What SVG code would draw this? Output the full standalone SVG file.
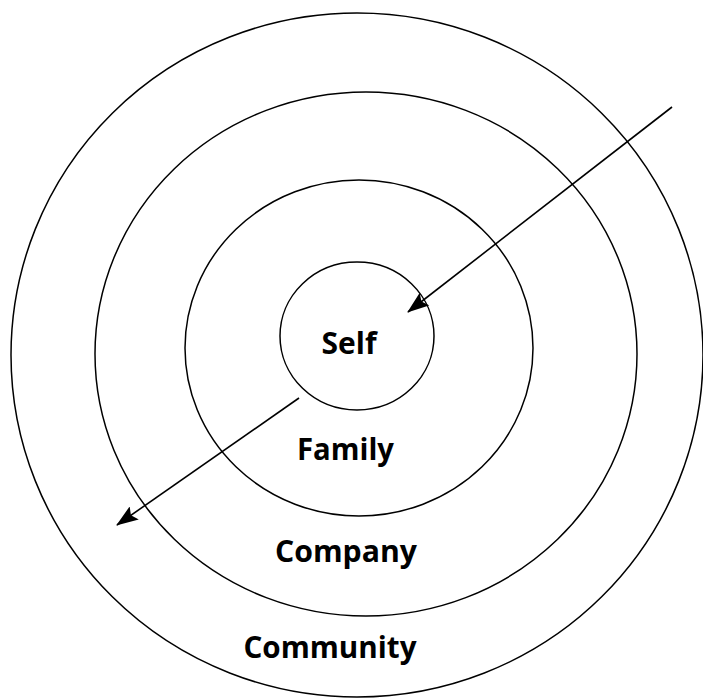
<svg xmlns="http://www.w3.org/2000/svg" width="703" height="700" viewBox="0 0 703 700">
<style>
.ring{fill:none;stroke:#000;stroke-width:1.5}
.lbl{font-family:"Open Sans","Noto Sans","DejaVu Sans",sans-serif;font-weight:bold;font-size:30px;fill:#000;text-anchor:middle}
.conn{stroke:#000;stroke-width:1.6;fill:none;marker-end:url(#ah)}
</style>
<defs>
<marker id="ah" viewBox="0 0 22 16" refX="21" refY="8" markerWidth="22" markerHeight="16" markerUnits="userSpaceOnUse" orient="auto">
<path d="M0,0 L22,8 L0,16 L4,8 Z" fill="#000"/>
</marker>
</defs>
<rect width="703" height="700" fill="#fff"/>
<g id="community">
<ellipse class="ring" cx="357" cy="355" rx="346" ry="342"/>
<text class="lbl" x="330" y="658" textLength="173" lengthAdjust="spacingAndGlyphs">Community</text>
</g>
<g id="company">
<ellipse class="ring" cx="366" cy="354" rx="271" ry="262"/>
<text class="lbl" x="346" y="562" textLength="142" lengthAdjust="spacingAndGlyphs">Company</text>
</g>
<g id="family">
<ellipse class="ring" cx="359" cy="348" rx="174" ry="168"/>
<text class="lbl" x="345.5" y="460" textLength="97" lengthAdjust="spacingAndGlyphs">Family</text>
</g>
<g id="self">
<ellipse class="ring" cx="357" cy="336" rx="77" ry="74"/>
<text class="lbl" x="349" y="354" textLength="55" lengthAdjust="spacingAndGlyphs">Self</text>
</g>
<g id="connectors">
<line class="conn" x1="672" y1="107" x2="408" y2="312"/>
<line class="conn" x1="299" y1="398" x2="117" y2="525"/>
</g>
</svg>
